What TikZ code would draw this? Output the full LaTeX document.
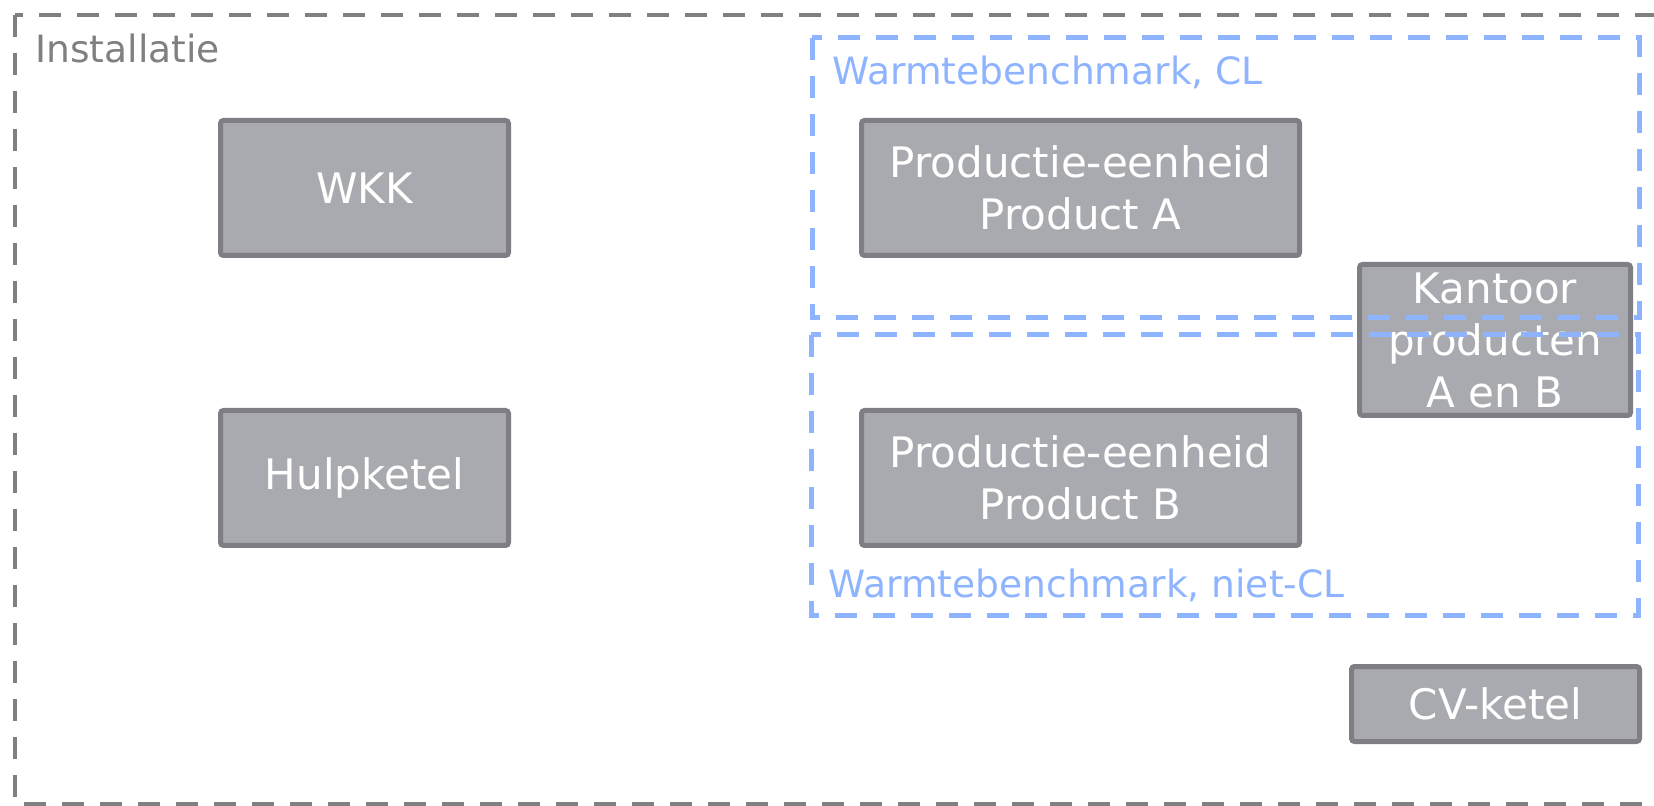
\documentclass[tikz,border=0pt]{standalone}
\usepackage{fontspec}
\setmainfont{DejaVu Sans}
\usetikzlibrary{positioning}

\definecolor{unitfill}{RGB}{169,170,176}
\definecolor{unitline}{RGB}{126,126,132}
\definecolor{zoneblue}{RGB}{143,180,255}
\definecolor{zonegray}{RGB}{128,128,128}

\begin{document}
\begin{tikzpicture}[x=0.5pt, y=-0.5pt,
  unit/.style={draw=unitline, fill=unitfill, line width=2.5pt, rounded corners=1.5pt,
    text=white, align=center, inner sep=0pt, font=\fontsize{21}{26}\selectfont},
  zone/.style={line width=2pt, dash pattern=on 11pt off 8pt},
  zonelabel/.style={anchor=base west, inner sep=0pt, font=\fontsize{18.8}{22}\selectfont}]
\clip (0,0) rectangle (1654,806);

% Installatie
\draw[zone, zonegray] (15,15) rectangle (1700,804);
\node[zonelabel, text=zonegray] (inst) at (35,63) {Installatie};

% WKK en hulpketel
\node[unit, minimum width=144pt, minimum height=67.5pt] (wkk) at (364.5,188) {WKK};
\node[unit, minimum width=144pt, minimum height=67.5pt, below=75pt of wkk] (hulp) {Hulpketel};

% productie-eenheden
\node[unit, minimum width=219pt, minimum height=67.5pt] (proda) at (1080.5,188) {Productie-eenheid\\Product A};
\node[unit, minimum width=219pt, minimum height=67.5pt, below=75pt of proda] (prodb) {Productie-eenheid\\Product B};

% kantoor
\node[unit, minimum width=135.5pt, minimum height=75.5pt] (kantoor) at (1495,340) {Kantoor\\producten\\A en B};

% CV-ketel
\node[unit, minimum width=144pt, minimum height=37.5pt] (cv) at (1495.5,704) {CV-ketel};

% warmtebenchmarks
\draw[zone, zoneblue, line width=2.5pt] (812,38) rectangle (1639,318);
\node[zonelabel, text=zoneblue] (cl) at (832,85) {Warmtebenchmark, CL};
\draw[zone, zoneblue, line width=2.5pt] (811,335) rectangle (1638,615);
\node[zonelabel, text=zoneblue] (nietcl) at (828,597) {Warmtebenchmark, niet-CL};
\end{tikzpicture}
\end{document}
